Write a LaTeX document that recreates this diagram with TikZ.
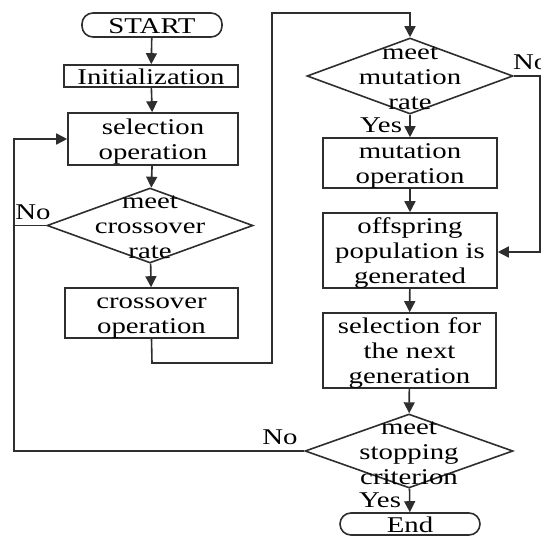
\documentclass[tikz,border=0pt]{standalone}
\usepackage{fontspec}
\setmainfont{Liberation Serif}[FakeStretch=1.28]
\usetikzlibrary{arrows.meta,shapes.geometric}
\newcommand{\topst}{\rule{0pt}{23.5pt}}
\newcommand{\botst}{\rule[-7pt]{0pt}{7pt}}
\tikzset{
  every node/.style={font=\fontsize{22.5}{25}\selectfont, inner sep=0pt},
  ln/.style={line width=1.6pt, draw=black!82},
  arr/.style={ln, -{Triangle[length=11pt,width=11pt]}},
  box/.style={ln, draw, rectangle, align=center},
  term/.style={ln, draw, rectangle, rounded corners=11pt},
  dia/.style={ln, draw, diamond},
  dtext/.style={align=center},
  lab/.style={anchor=base}
}
\begin{document}
\begin{tikzpicture}[x=1pt,y=-1pt]
\useasboundingbox (0,0) rectangle (541,536);
% left column
\node[term, minimum width=140pt, minimum height=24pt] (start) at (152,25) {};
\node (startt) at (152,25) {\topst START\botst};
\node[box, minimum width=174pt, minimum height=22pt] (init) at (151,76) {};
\node (initt) at (151,76) {\topst Initialization\botst};
\node[box, minimum width=170pt, minimum height=52pt] (sel) at (153,139) {};
\node[dtext] (selt) at (153,139) {\topst selection\\operation\botst};
\node[dia, minimum width=206pt, minimum height=75pt] (cross) at (150,225.5) {};
\node[dtext] (crosst) at (150,225.5) {\topst meet\\crossover\\rate\botst};
\node[box, minimum width=173pt, minimum height=50pt] (crossop) at (151.5,313) {};
\node[dtext] (crossopt) at (151.5,313) {\topst crossover\\operation\botst};
% right column
\node[dia, minimum width=206pt, minimum height=76pt] (mut) at (410,76) {};
\node[dtext] (mutt) at (410,76) {\topst meet\\mutation\\rate\botst};
\node[box, minimum width=174pt, minimum height=50pt] (mutop) at (410,163) {};
\node[dtext] (mutopt) at (410,163) {\topst mutation\\operation\botst};
\node[box, minimum width=174pt, minimum height=75pt] (off) at (410,250.5) {};
\node[dtext] (offt) at (410,250.5) {\topst offspring\\population is\\generated\botst};
\node[box, minimum width=173pt, minimum height=75pt] (nsel) at (409.5,350.5) {};
\node[dtext] (nselt) at (409.5,350.5) {\topst selection for\\the next\\generation\botst};
\node[dia, minimum width=208pt, minimum height=74pt] (stop) at (409,451) {};
\node[dtext] (stopt) at (409,451) {\topst meet\\stopping\\criterion\botst};
\node[term, minimum width=140pt, minimum height=22pt] (end) at (410,524) {};
\node (endt) at (410,524) {\topst End\botst};
% coordinates
\coordinate (c1) at (152,363);
\coordinate (c2) at (272,363);
\coordinate (c3) at (272,13);
\coordinate (c4) at (410,13);
\coordinate (r1) at (540,76);
\coordinate (r2) at (540,252);
\coordinate (l1) at (14,451);
\coordinate (l2) at (14,139);
\coordinate (l3) at (14,225.5);
% connectors
\draw[arr] (start) -- (init);
\draw[arr] (init) -- (sel);
\draw[arr] (sel) -- (cross);
\draw[arr] (cross) -- (crossop);
\draw[arr] (crossop.south) -- (c1) -- (c2) -- (c3) -- (c4) -- (mut.north);
\draw[arr] (mut) -- (mutop);
\draw[arr] (mutop) -- (off);
\draw[arr] (off) -- (nsel);
\draw[arr] (nsel) -- (stop);
\draw[arr] (stop) -- (end);
\draw[arr] (mut.east) -- (r1) -- (r2) -- (off.east |- r2);
\draw[arr] (stop.west) -- (l1) -- (l2) -- (sel.west);
\draw[ln] (cross.west) -- (l3);
% labels
\node[lab] (no1) at (33,219) {No};
\node[lab, anchor=base west] (no2) at (513,69) {No};
\node[lab] (no3) at (280,444) {No};
\node[lab] (yes1) at (381,132) {Yes};
\node[lab] (yes2) at (380,507) {Yes};
\end{tikzpicture}
\end{document}
